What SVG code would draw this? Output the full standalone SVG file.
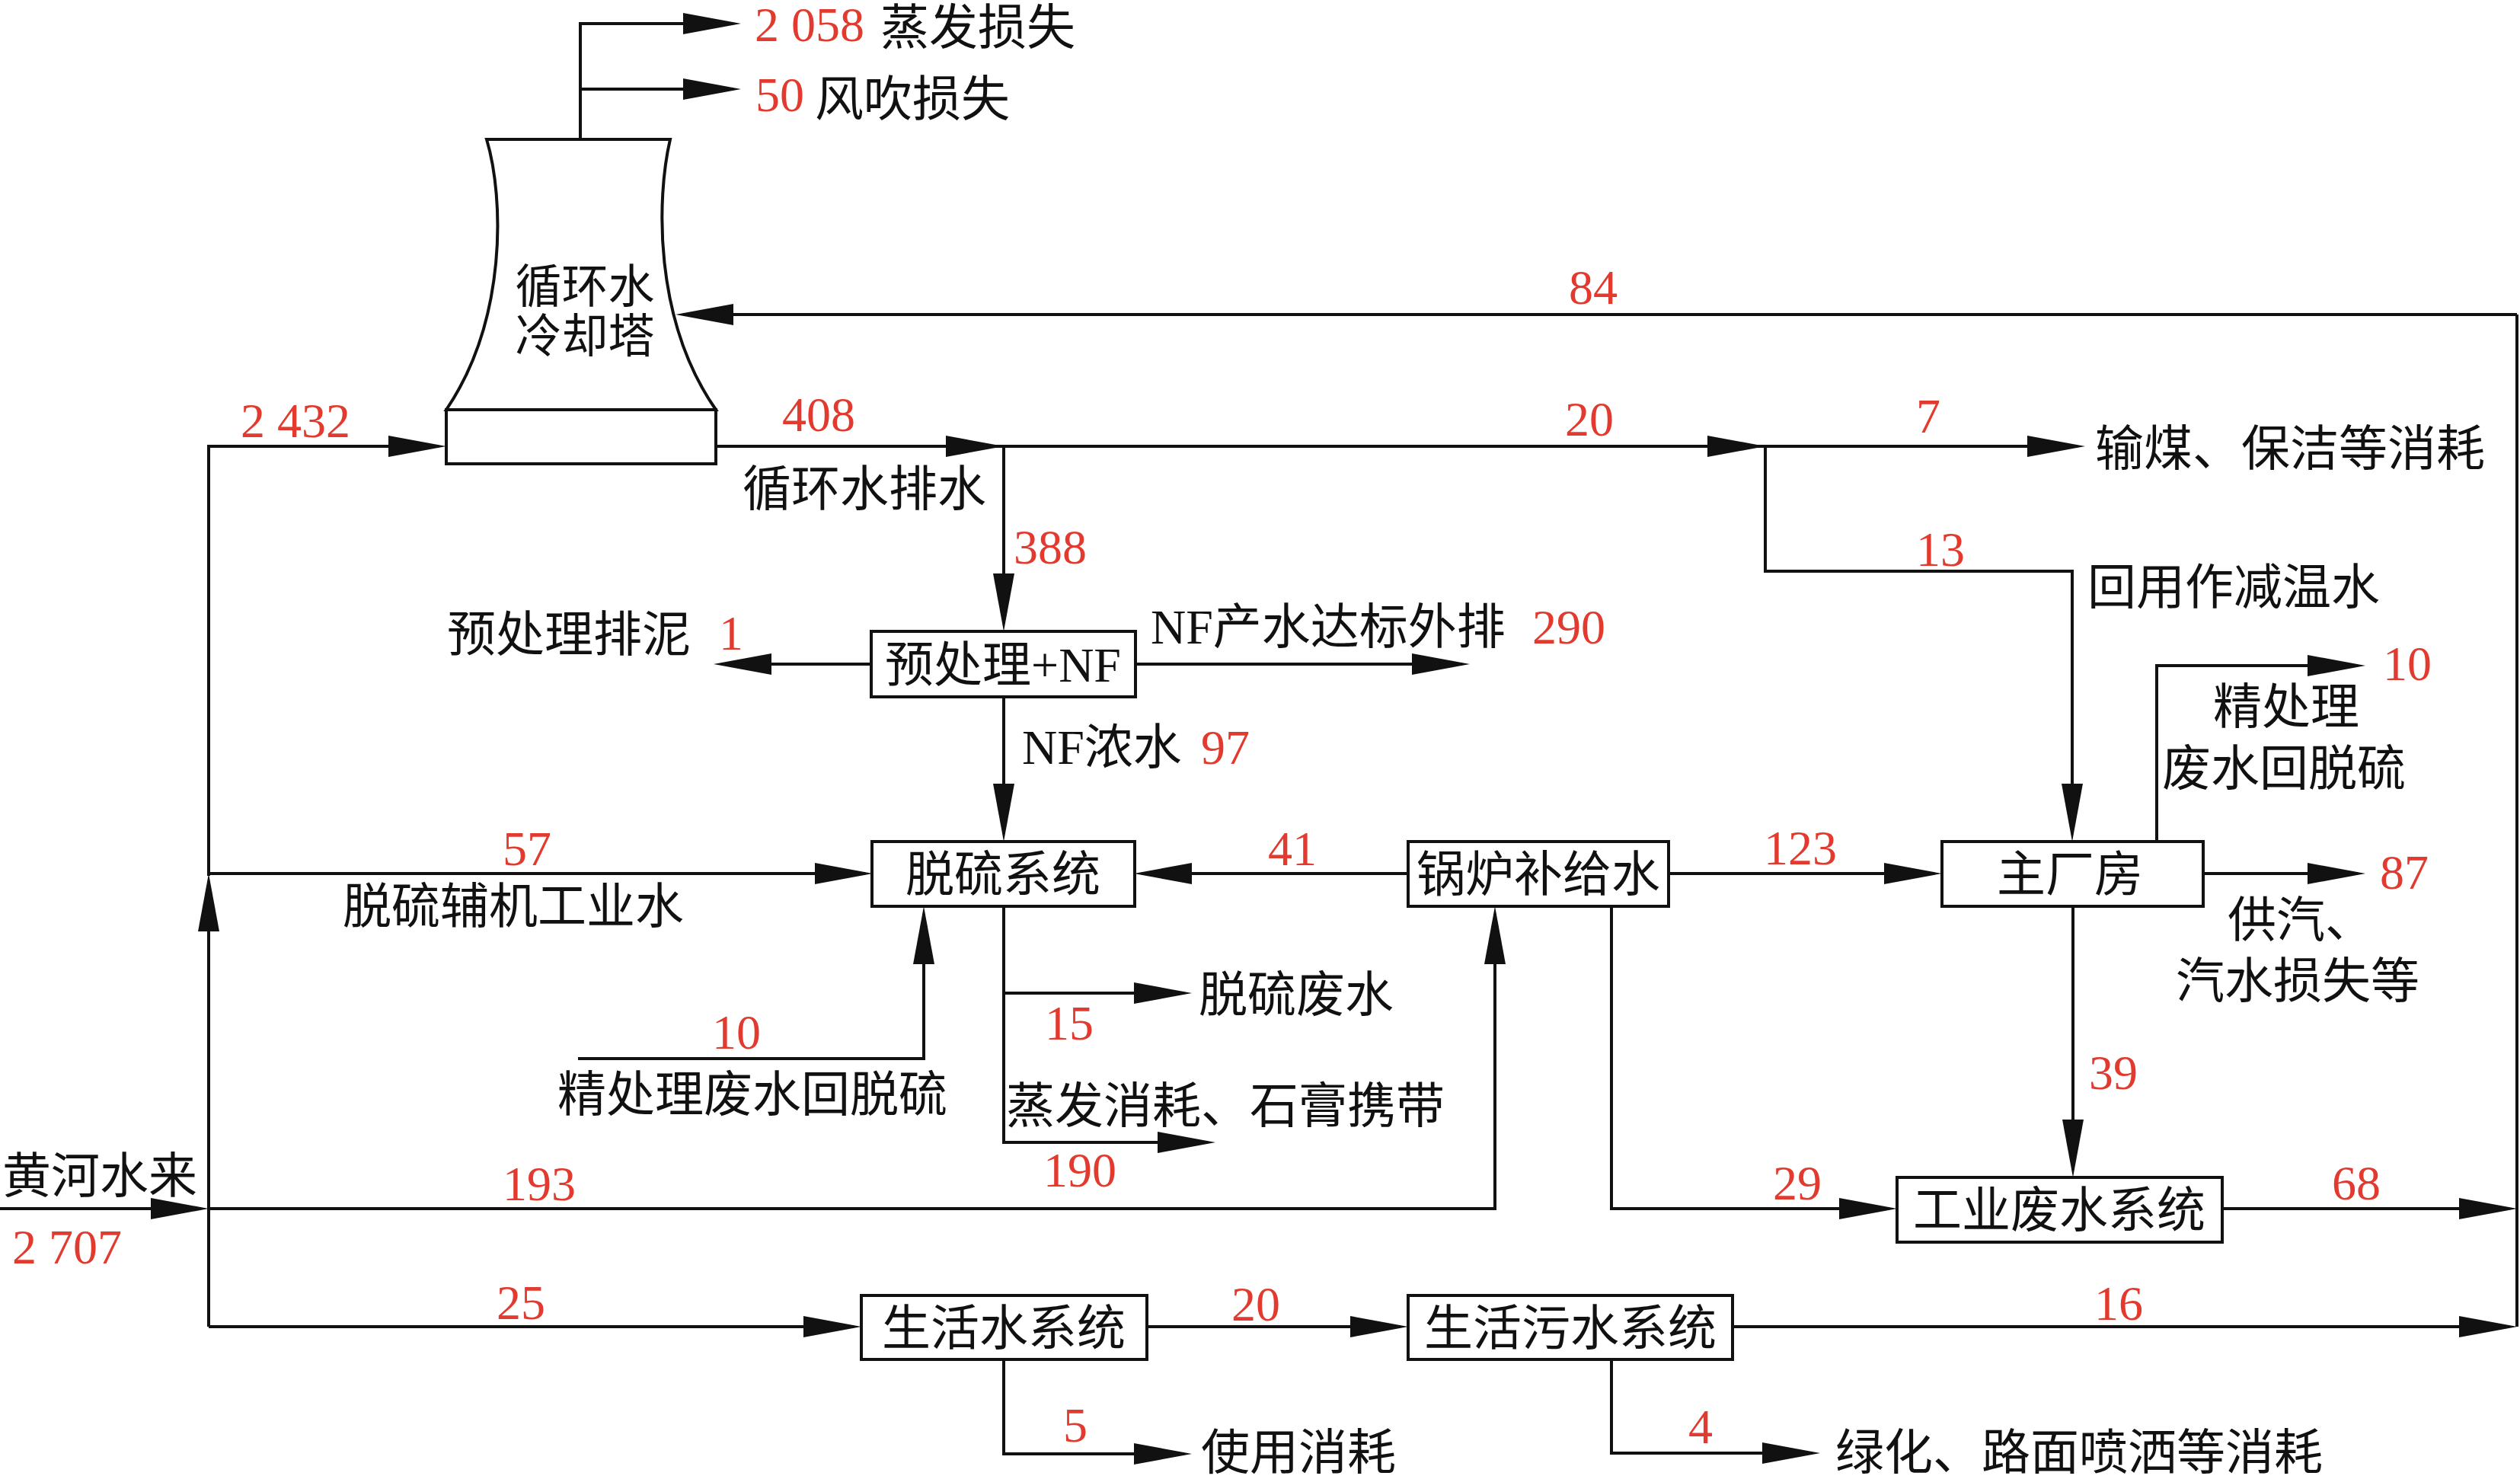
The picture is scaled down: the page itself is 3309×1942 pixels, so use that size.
<svg xmlns="http://www.w3.org/2000/svg" width="3309" height="1942" viewBox="0 0 3309 1942">
<style>
text{font-family:"Liberation Serif","Noto Sans CJK SC",serif;font-size:64px;fill:#111}
.r{fill:#e23a2e}
.m{text-anchor:middle}
.t{font-size:61px}
.box{fill:#fff;stroke:#111;stroke-width:4}
.ln{fill:none;stroke:#111;stroke-width:4}
.ar{marker-end:url(#ah)}
</style>
<defs>
<marker id="ah" markerUnits="userSpaceOnUse" markerWidth="78" markerHeight="30" refX="66" refY="14" orient="auto" overflow="visible"><path d="M0,0 L76,14 L0,28 Z" fill="#111"/></marker>
</defs>
<rect width="3309" height="1942" fill="#fff"/>

<g id="connectors">
<path class="ln ar" d="M762,183 V31 H963"/>
<path class="ln ar" d="M762,117 H963"/>
<path class="ln" d="M3305,413 V1742"/>
<path class="ln ar" d="M3305,413 H897"/>
<path class="ln ar" d="M0,1587 H264"/>
<path class="ln ar" d="M274,1742 V1157"/>
<path class="ln ar" d="M274,1150 V586 H576"/>
<path class="ln ar" d="M274,1147 H1136"/>
<path class="ln ar" d="M274,1587 H1963 V1200"/>
<path class="ln ar" d="M274,1742 H1121"/>
<path class="ln ar" d="M940,586 H1308"/>
<path class="ln ar" d="M1306,586 H2308"/>
<path class="ln ar" d="M2306,586 H2728"/>
<path class="ln ar" d="M1318,586 V819"/>
<path class="ln ar" d="M2318,586 V750 H2721 V1095"/>
<path class="ln ar" d="M1144,872 H947"/>
<path class="ln ar" d="M1491,872 H1920"/>
<path class="ln ar" d="M1318,915 V1095"/>
<path class="ln ar" d="M1849,1147 H1499"/>
<path class="ln ar" d="M2191,1147 H2540"/>
<path class="ln ar" d="M2832,1105 V874 H3096"/>
<path class="ln ar" d="M2893,1147 H3096"/>
<path class="ln ar" d="M1318,1190 V1500 H1586"/>
<path class="ln ar" d="M1318,1304 H1555"/>
<path class="ln ar" d="M759,1390 H1213 V1200"/>
<path class="ln ar" d="M2722,1190 V1536"/>
<path class="ln ar" d="M2116,1190 V1587 H2481"/>
<path class="ln ar" d="M2918,1587 H3295"/>
<path class="ln ar" d="M1506,1742 H1839"/>
<path class="ln ar" d="M2275,1742 H3295"/>
<path class="ln ar" d="M1318,1785 V1909 H1555"/>
<path class="ln ar" d="M2116,1785 V1908 H2380"/>
</g>

<g id="cooling-tower">
<path class="box" d="M639,183 L880,183 C862,260 858,420 940,538 L586,538 C666,420 662,260 639,183 Z"/>
<rect class="box" x="586" y="538" width="354" height="71"/>
<text class="m t" x="768" y="398">循环水</text>
<text class="m t" x="768" y="463">冷却塔</text>
</g>
<g id="pretreat-nf">
<rect class="box" x="1144" y="829" width="347" height="86"/>
<text class="m" x="1317" y="895">预处理+NF</text>
</g>
<g id="desulfurization">
<rect class="box" x="1145" y="1105" width="345" height="85"/>
<text class="m" x="1317" y="1170">脱硫系统</text>
</g>
<g id="boiler-makeup">
<rect class="box" x="1849" y="1105" width="342" height="85"/>
<text class="m" x="2020" y="1170">锅炉补给水</text>
</g>
<g id="main-building">
<rect class="box" x="2550" y="1105" width="343" height="85"/>
<text class="m" x="2718" y="1170">主厂房</text>
</g>
<g id="industrial-wastewater">
<rect class="box" x="2491" y="1546" width="427" height="85"/>
<text class="m" x="2704" y="1611">工业废水系统</text>
</g>
<g id="domestic-water">
<rect class="box" x="1131" y="1701" width="375" height="84"/>
<text class="m" x="1318" y="1766">生活水系统</text>
</g>
<g id="domestic-sewage">
<rect class="box" x="1849" y="1701" width="426" height="84"/>
<text class="m" x="2062" y="1766">生活污水系统</text>
</g>

<g id="labels">
<text class="r" x="991" y="54">2 058</text>
<text x="1156" y="58">蒸发损失</text>
<text class="r" x="992" y="146">50</text>
<text x="1070" y="152">风吹损失</text>
<text class="r" x="2060" y="399">84</text>
<text class="r" x="316" y="574">2 432</text>
<text class="r" x="1027" y="566">408</text>
<text x="975" y="664">循环水排水</text>
<text class="r" x="2055" y="572">20</text>
<text class="r" x="2516" y="568">7</text>
<text x="2751" y="611">输煤、保洁等消耗</text>
<text class="r" x="1331" y="740">388</text>
<text class="r" x="2516" y="743">13</text>
<text x="2741" y="793">回用作减温水</text>
<text x="587" y="855">预处理排泥</text>
<text class="r" x="944" y="853">1</text>
<text x="1511" y="845">NF产水达标外排</text>
<text class="r" x="2012" y="845">290</text>
<text x="1342" y="1003">NF浓水</text>
<text class="r" x="1577" y="1003">97</text>
<text class="r" x="3129" y="893">10</text>
<text x="2906" y="950">精处理</text>
<text x="2839" y="1031">废水回脱硫</text>
<text class="r" x="660" y="1136">57</text>
<text x="450" y="1212">脱硫辅机工业水</text>
<text class="r" x="1665" y="1136">41</text>
<text class="r" x="2316" y="1135">123</text>
<text class="r" x="3125" y="1167">87</text>
<text x="2925" y="1230">供汽、</text>
<text x="2857" y="1310">汽水损失等</text>
<text x="1574" y="1328">脱硫废水</text>
<text class="r" x="1372" y="1365">15</text>
<text class="r" x="935" y="1377">10</text>
<text x="732" y="1459">精处理废水回脱硫</text>
<text x="1321" y="1474">蒸发消耗、石膏携带</text>
<text class="r" x="1370" y="1558">190</text>
<text class="r" x="2743" y="1430">39</text>
<text x="3" y="1566">黄河水来</text>
<text class="r" x="16" y="1659">2 707</text>
<text class="r" x="660" y="1576">193</text>
<text class="r" x="2328" y="1575">29</text>
<text class="r" x="3062" y="1575">68</text>
<text class="r" x="652" y="1732">25</text>
<text class="r" x="1617" y="1734">20</text>
<text class="r" x="2750" y="1733">16</text>
<text class="r" x="1396" y="1893">5</text>
<text x="1577" y="1929">使用消耗</text>
<text class="r" x="2217" y="1895">4</text>
<text x="2410" y="1929">绿化、路面喷洒等消耗</text>
</g>
</svg>
